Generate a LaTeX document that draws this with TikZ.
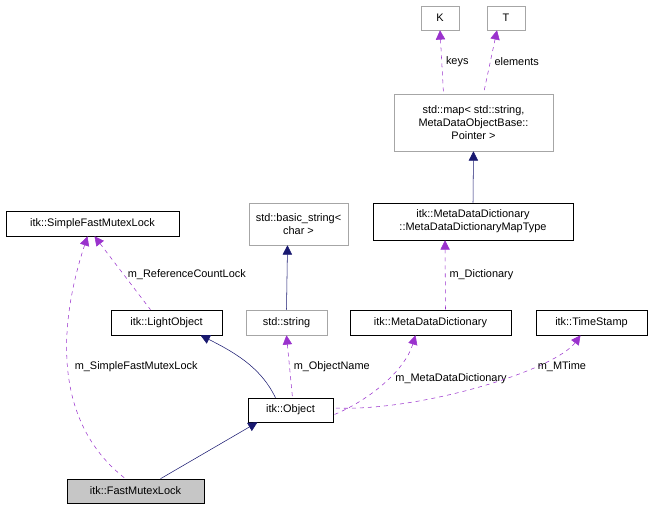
\documentclass[tikz,border=0pt]{standalone}
\usepackage{fontspec}
\setmainfont{Liberation Sans}
\usetikzlibrary{arrows.meta}
\definecolor{dpurple}{HTML}{9A32CD}
\definecolor{dnavy}{HTML}{191970}
\begin{document}
\begin{tikzpicture}[x=0.75pt,y=-0.75pt,
  every node/.style={font=\fontsize{8.2}{9.6}\selectfont},
  box/.style={draw=black,fill=white,inner sep=0pt,align=center,rectangle},
  gbox/.style={box,draw=gray!70},
  lbl/.style={fill=none,draw=none,inner sep=1pt},
  use/.style={draw=dpurple,dashed,{Triangle[open,length=7pt,width=7pt,fill=dpurple]}-},
  inh/.style={draw=dnavy,{Triangle[length=7pt,width=7pt,fill=dnavy]}-}]
\useasboundingbox (0,0) rectangle (651,509);
\node[gbox,minimum width=38*0.75pt,minimum height=24*0.75pt] (K) at (440,18) {K};
\node[gbox,minimum width=38*0.75pt,minimum height=24*0.75pt] (T) at (506,18) {T};
\node[gbox,minimum width=159*0.75pt,minimum height=57*0.75pt] (map) at (473.5,122.5) {std::map\textless{} std::string,\\ MetaDataObjectBase::\\Pointer \textgreater};
\node[box,minimum width=200*0.75pt,minimum height=37*0.75pt] (mt) at (473,221.5) {itk::MetaDataDictionary\\::MetaDataDictionaryMapType};
\node[box,minimum width=173*0.75pt,minimum height=25*0.75pt] (sfm) at (92.5,223.5) {itk::SimpleFastMutexLock};
\node[gbox,minimum width=99*0.75pt,minimum height=42*0.75pt] (bs) at (298.5,224) {std::basic\_string\textless\\ char \textgreater};
\node[box,minimum width=111*0.75pt,minimum height=25*0.75pt] (lo) at (166.5,322.5) {itk::LightObject};
\node[gbox,minimum width=81*0.75pt,minimum height=25*0.75pt] (str) at (286.5,322.5) {std::string};
\node[box,minimum width=161*0.75pt,minimum height=25*0.75pt] (mdd) at (430.5,322.5) {itk::MetaDataDictionary};
\node[box,minimum width=111*0.75pt,minimum height=25*0.75pt] (ts) at (591.5,322.5) {itk::TimeStamp};
\node[box,minimum width=85*0.75pt,minimum height=24*0.75pt] (obj) at (290.5,410) {itk::Object};
\node[box,fill=gray!45,minimum width=137*0.75pt,minimum height=24*0.75pt] (fml) at (135.5,491) {itk::FastMutexLock};

\draw[use] (K.south) -- ([xshift=-30*0.75pt]map.north) node[lbl,pos=0.5,right=2pt] {keys};
\draw[use] ([xshift=-9*0.75pt]T.south) -- ([xshift=10*0.75pt]map.north) node[lbl,pos=0.5,right=2pt] {elements};
\draw[inh] (map.south) -- (mt.north);
\draw[use] ([xshift=-28*0.75pt]mt.south) -- ([xshift=15*0.75pt]mdd.north) node[lbl,pos=0.5,right=2pt] {m\_Dictionary};
\draw[use] ([xshift=2*0.75pt]sfm.south) -- ([xshift=-16*0.75pt]lo.north) node[lbl,pos=0.52,right=2pt] {m\_ReferenceCountLock};
\draw[inh] ([xshift=-11*0.75pt]bs.south) -- (str.north);
\draw[inh] ([xshift=34*0.75pt]lo.south) .. controls (240,355) and (262,370) .. ([xshift=-15*0.75pt]obj.north);
\draw[use] (str.south) -- ([xshift=2*0.75pt]obj.north) node[lbl,pos=0.5,right=2pt] {m\_ObjectName};
\draw[use] ([xshift=-15*0.75pt]mdd.south) .. controls (405,370) and (370,400) .. ([yshift=-5*0.75pt]obj.east) node[lbl,pos=0.45,right=4pt] {m\_MetaDataDictionary};
\draw[use] ([xshift=-11*0.75pt]ts.south) .. controls (555,370) and (420,412) .. ([yshift=2*0.75pt]obj.east) node[lbl,pos=0.3,right=3pt] {m\_MTime};
\draw[use] ([xshift=-5*0.75pt]sfm.south) .. controls (60,320) and (50,420) .. ([xshift=-10*0.75pt]fml.north) node[lbl,pos=0.5,right=4pt] {m\_SimpleFastMutexLock};
\draw[inh] ([xshift=-33*0.75pt]obj.south) -- ([xshift=25*0.75pt]fml.north);
\end{tikzpicture}
\end{document}
